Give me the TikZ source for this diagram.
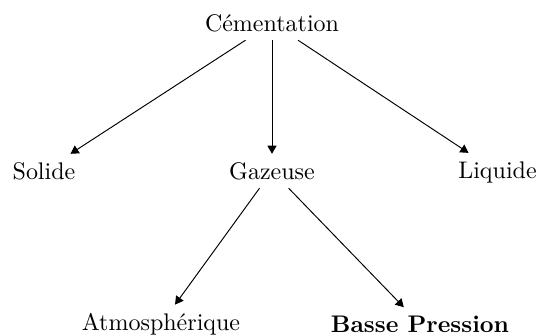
\documentclass[tikz,border=0pt]{standalone}
\usetikzlibrary{arrows.meta}
\begin{document}
\begin{tikzpicture}[x=0.41667pt,y=-0.41667pt,
  conn/.style={-{Triangle[length=3.4pt,width=3.8pt]}, line width=0.4pt},
  lbl/.style={inner sep=3.33pt}]
\useasboundingbox (0,0) rectangle (541,336);
\node[lbl] (c) at (272,23) {Cémentation};
\node[lbl] (s) at (44,171) {Solide};
\node[lbl] (g) at (272,171) {Gazeuse};
\node[lbl] (l) at (497.5,172) {Liquide};
\node[lbl] (a) at (161,324) {Atmosphérique};
\node[lbl] (b) at (420,324) {\textbf{Basse Pression}};
\draw[conn] (c) -- (s);
\draw[conn] (c) -- (g);
\draw[conn] (c) -- (l);
\draw[conn] (g) -- (a);
\draw[conn] (g) -- (b);
\end{tikzpicture}
\end{document}
